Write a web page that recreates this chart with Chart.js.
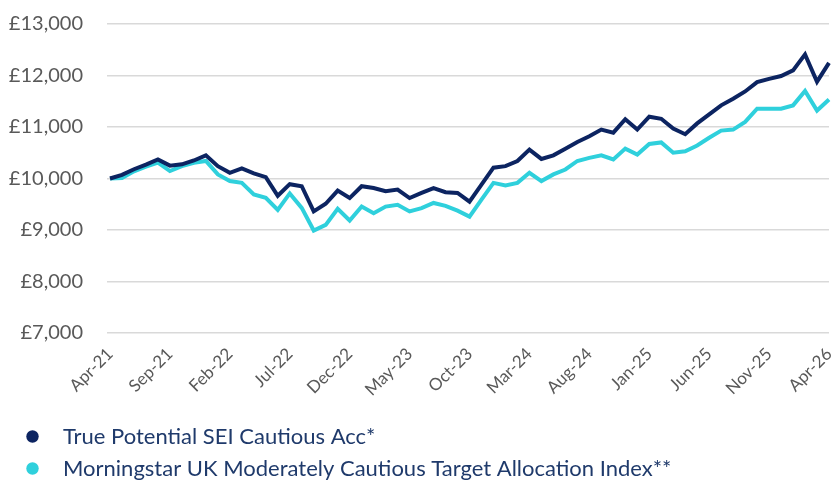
<!DOCTYPE html>
<html>
<head>
<meta charset="utf-8">
<script src="https://cdn.jsdelivr.net/npm/chart.js@4.4.1/dist/chart.umd.min.js"></script>
<style>
  html, body { margin: 0; padding: 0; background: #ffffff; }
  canvas { display: block; }
</style>
</head>
<body>
<canvas id="c" width="831" height="480"></canvas>
<script>
const months = [
  'Apr-21','May-21','Jun-21','Jul-21','Aug-21','Sep-21','Oct-21','Nov-21','Dec-21','Jan-22','Feb-22','Mar-22',
  'Apr-22','May-22','Jun-22','Jul-22','Aug-22','Sep-22','Oct-22','Nov-22','Dec-22','Jan-23','Feb-23','Mar-23',
  'Apr-23','May-23','Jun-23','Jul-23','Aug-23','Sep-23','Oct-23','Nov-23','Dec-23','Jan-24','Feb-24','Mar-24',
  'Apr-24','May-24','Jun-24','Jul-24','Aug-24','Sep-24','Oct-24','Nov-24','Dec-24','Jan-25','Feb-25','Mar-25',
  'Apr-25','May-25','Jun-25','Jul-25','Aug-25','Sep-25','Oct-25','Nov-25','Dec-25','Jan-26','Feb-26','Mar-26',
  'Apr-26'
];
const shownTicks = ['Apr-21','Sep-21','Feb-22','Jul-22','Dec-22','May-23','Oct-23','Mar-24','Aug-24','Jan-25','Jun-25','Nov-25','Apr-26'];

const seriesNames = ['True Potential SEI Cautious Acc*', 'Morningstar UK Moderately Cautious Target Allocation Index**'];

const fundValues = [
  10000,10070,10180,10270,10370,10250,10275,10350,10450,10240,10110,10195,
  10100,10025,9665,9890,9850,9360,9510,9765,9620,9850,9815,9755,
  9785,9620,9720,9815,9735,9720,9550,9880,10210,10240,10340,10560,
  10380,10450,10580,10710,10820,10950,10890,11150,10950,11200,11160,10970,
  10860,11070,11245,11420,11550,11690,11870,11935,11990,12100,12410,11880,
  12245
];
const indexValues = [
  10000,10010,10140,10230,10310,10145,10240,10305,10340,10080,9950,9915,
  9690,9625,9390,9710,9430,8990,9100,9410,9185,9455,9325,9455,
  9490,9360,9425,9525,9470,9375,9260,9590,9915,9865,9915,10110,
  9950,10080,10175,10340,10400,10450,10370,10580,10465,10670,10700,10500,
  10530,10640,10790,10930,10950,11100,11355,11355,11355,11420,11700,11320,
  11535
];

const yTicks = [7000, 8000, 9000, 10000, 11000, 12000, 13000];

const NAVY = '#0c2461';
const CYAN = '#2fd0dc';
const TICK_GREY = '#595959';
const LEGEND_TEXT = '#1f3a6b';

function makeDot(color) {
  const c = document.createElement('canvas');
  c.width = 13; c.height = 13;
  const g = c.getContext('2d');
  g.fillStyle = color;
  g.beginPath();
  g.arc(6.5, 6.5, 6.2, 0, Math.PI * 2);
  g.fill();
  return c;
}

// place chart area and legend precisely after Chart.js layout
const layoutTweak = {
  id: 'layoutTweak',
  afterLayout(chart) {
    const lg = chart.legend;
    if (lg) { lg.top += 9.5; lg.bottom += 9.5; }
  }
};

Chart.defaults.font.family = 'Lato, "Open Sans", sans-serif';

new Chart(document.getElementById('c'), {
  type: 'line',
  plugins: [layoutTweak],
  data: {
    labels: months,
    datasets: [
      {
        label: seriesNames[0],
        data: fundValues,
        borderColor: NAVY,
        backgroundColor: NAVY,
        borderWidth: 4,
        pointRadius: 0,
        tension: 0,
        pointStyle: makeDot(NAVY),
        borderJoinStyle: 'miter'
      },
      {
        label: seriesNames[1],
        data: indexValues,
        borderColor: CYAN,
        backgroundColor: CYAN,
        borderWidth: 4,
        pointRadius: 0,
        tension: 0,
        pointStyle: makeDot(CYAN),
        borderJoinStyle: 'miter'
      }
    ]
  },
  options: {
    responsive: false,
    animation: false,
    events: [],
    layout: { padding: { left: 3, right: 2, top: 24, bottom: 0 } },
    plugins: {
      tooltip: { enabled: false },
      legend: {
        position: 'bottom',
        align: 'start',
        labels: {
          usePointStyle: true,
          pointStyleWidth: 39,
          padding: 10,
          color: LEGEND_TEXT,
          font: { size: 22 }
        }
      }
    },
    scales: {
      x: {
        grid: { display: false, drawTicks: false },
        border: { display: false },
        ticks: {
          autoSkip: false,
          maxRotation: 45,
          minRotation: 45,
          padding: 11,
          color: TICK_GREY,
          font: { size: 17 },
          callback: function (v, i) {
            const lab = months[i];
            return shownTicks.includes(lab) ? lab : null;
          }
        },
        afterFit: function (s) { s.height = 73; s.paddingRight = 0; s.paddingLeft = 0; }
      },
      y: {
        min: yTicks[0],
        max: yTicks[yTicks.length - 1],
        afterBuildTicks: function (s) { s.ticks = yTicks.map(v => ({ value: v })); },
        grid: { color: '#d9d9d9', lineWidth: 1.5, tickLength: 3 },
        border: { display: false },
        ticks: {
          padding: 24,
          color: TICK_GREY,
          font: { size: 20 },
          callback: function (v) { return '£' + Number(v).toLocaleString('en-GB'); }
        },
        afterFit: function (s) { s.width = 107; s.paddingTop = 0; s.paddingBottom = 0; }
      }
    }
  }
});
</script>
</body>
</html>
